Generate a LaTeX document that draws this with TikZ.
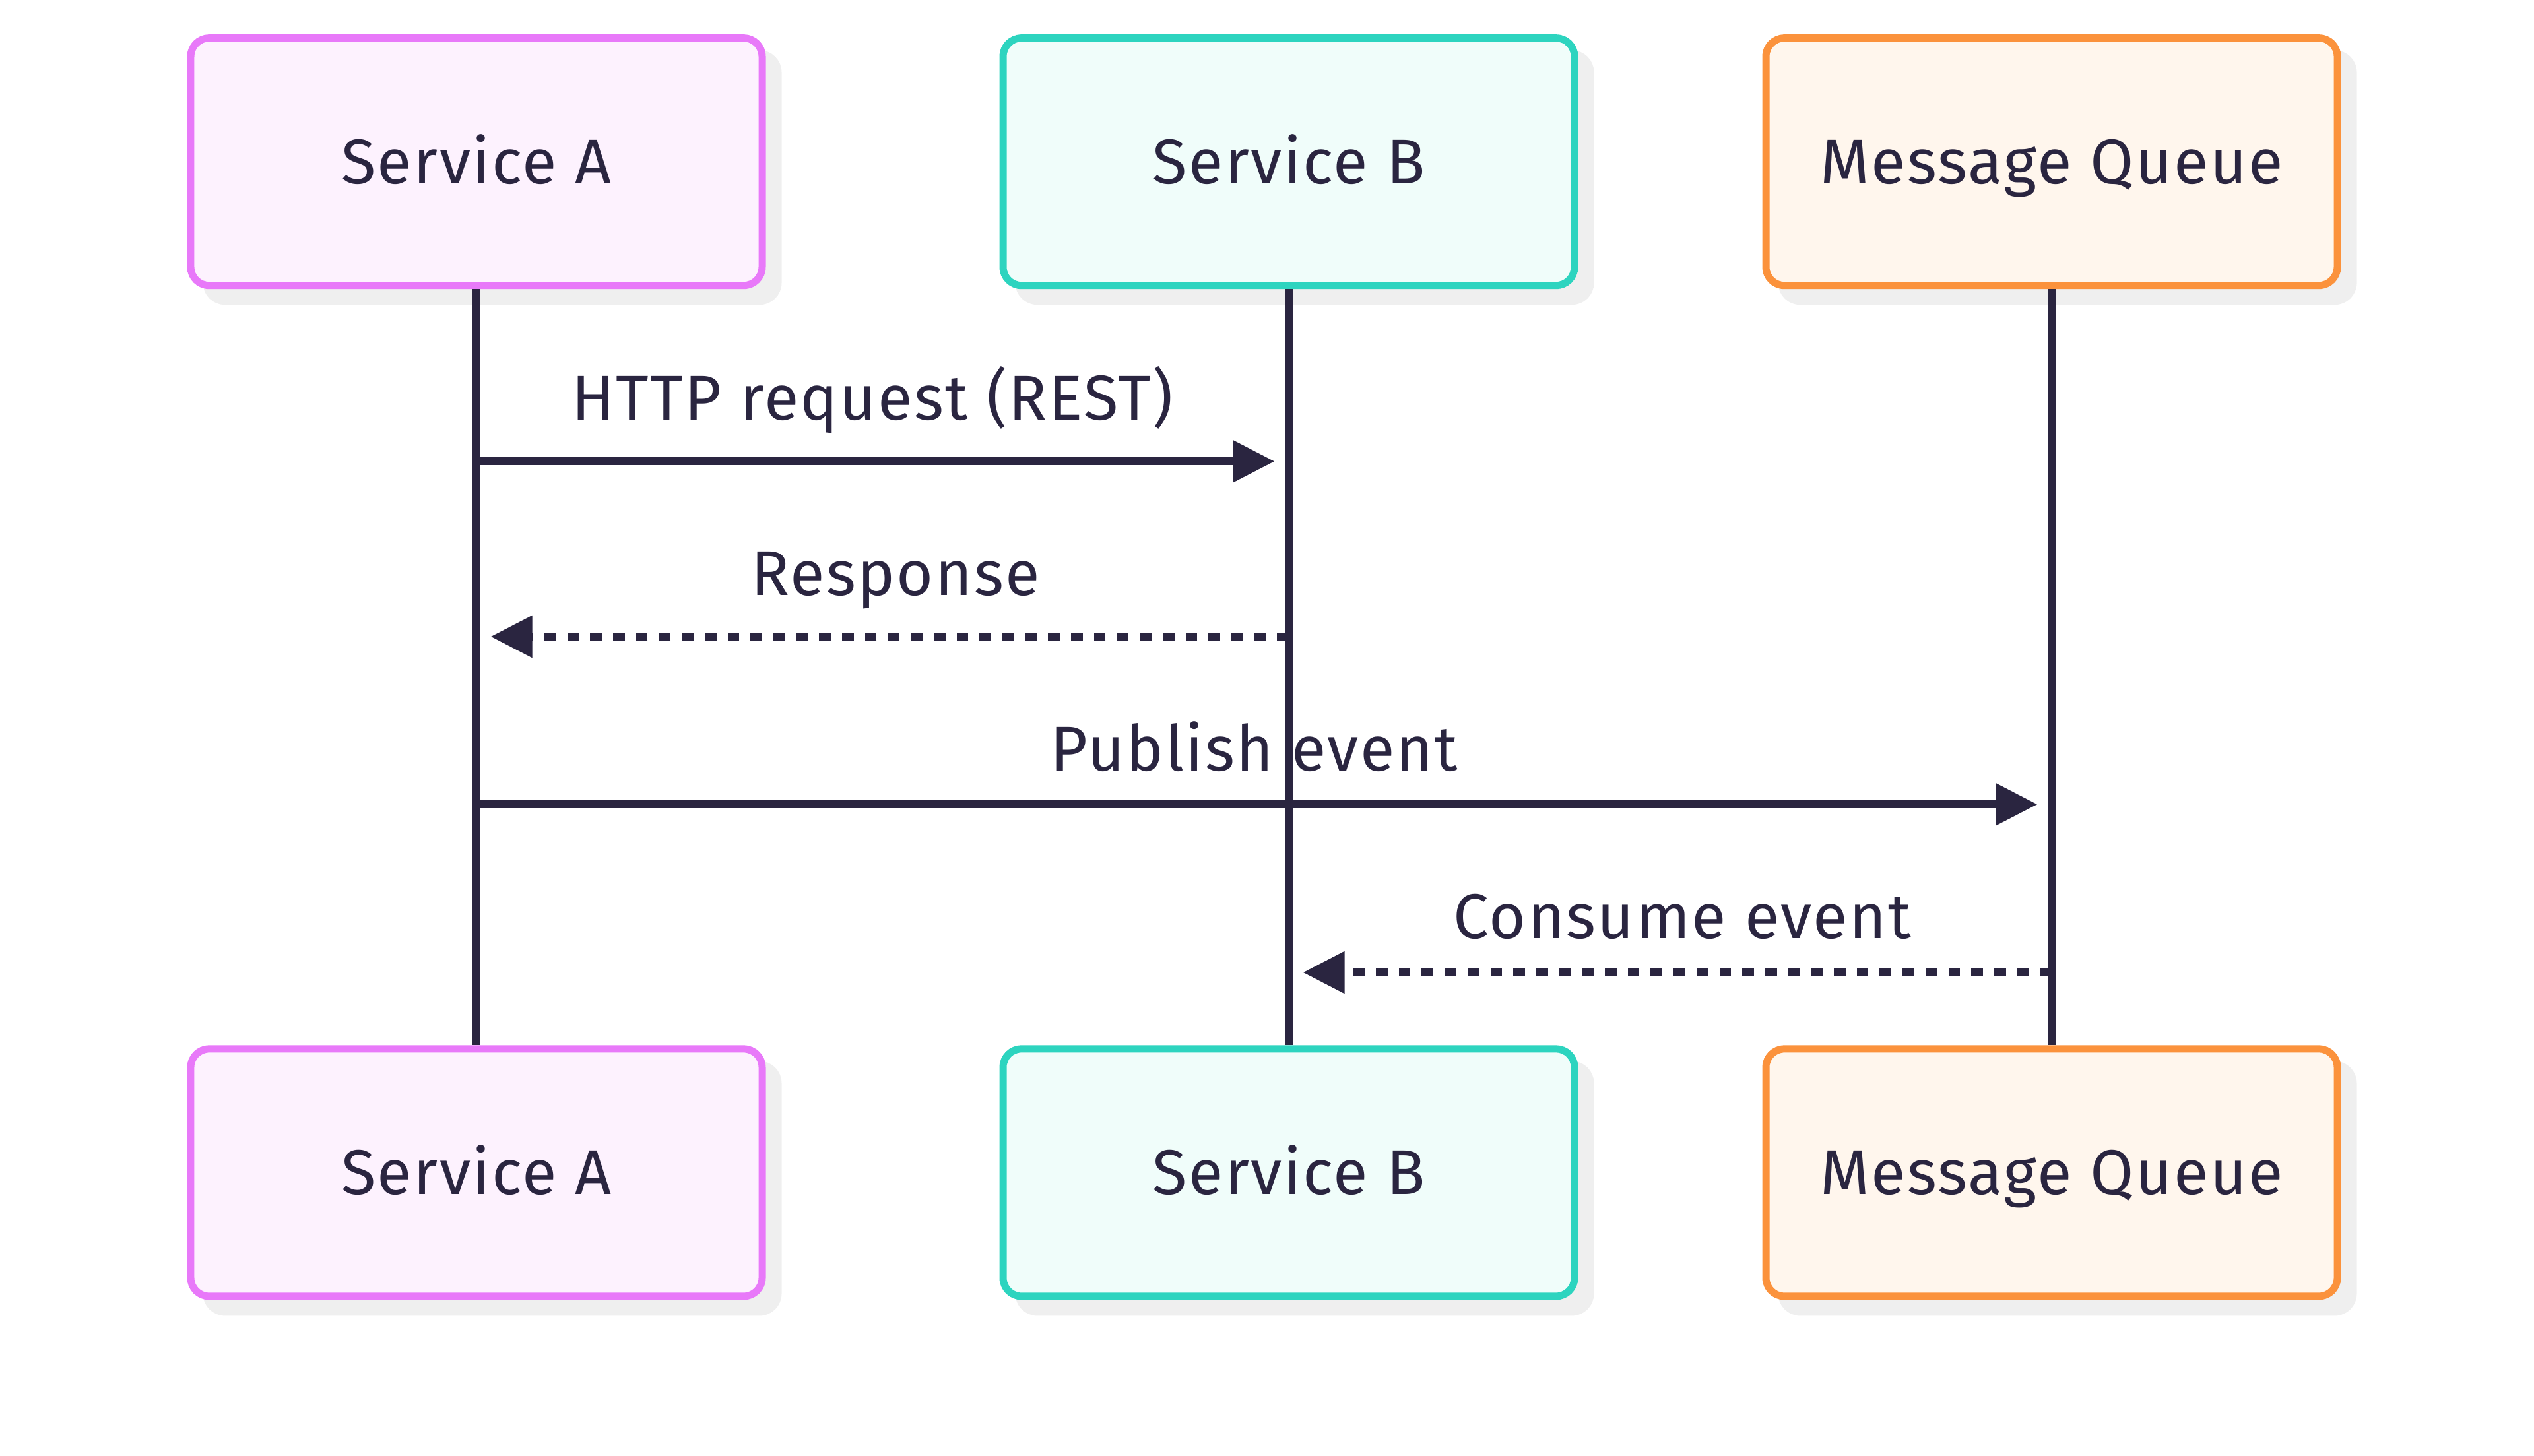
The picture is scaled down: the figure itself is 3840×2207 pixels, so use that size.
\documentclass[tikz,border=0pt]{standalone}
\usepackage{fontspec}
\setmainfont[LetterSpace=2.5]{Fira Sans}
\usetikzlibrary{arrows.meta,shadows}
\definecolor{ink}{HTML}{2A2540}
\definecolor{shade}{HTML}{EFEFEF}
\definecolor{aborder}{HTML}{E879F9}
\definecolor{afill}{HTML}{FDF2FE}
\definecolor{bborder}{HTML}{2DD4BF}
\definecolor{bfill}{HTML}{F0FDFA}
\definecolor{qborder}{HTML}{FB923C}
\definecolor{qfill}{HTML}{FFF6ED}
\begin{document}
\begin{tikzpicture}[x=0.2pt,y=-0.2pt,
  actor/.style={draw, line width=2.2pt, rounded corners=5.6pt,
    minimum width=173.2pt, minimum height=75pt, inner sep=0pt,
    text=ink, font=\fontsize{19.2}{23}\selectfont,
    text height=13.2pt, text depth=0pt,
    drop shadow={shadow xshift=4.8pt, shadow yshift=-4.8pt,
      fill=shade, draw=shade, line width=2.2pt, opacity=1}},
  acta/.style={actor, draw=aborder, fill=afill},
  actb/.style={actor, draw=bborder, fill=bfill},
  actq/.style={actor, draw=qborder, fill=qfill},
  life/.style={draw=ink, line width=2.34pt},
  msg/.style={draw=ink, line width=2.34pt, shorten >=4.3pt,
    -{Triangle[length=12.6pt,width=12.2pt]}},
  reply/.style={msg, dash pattern=on 3.54pt off 3.4pt},
  lbl/.style={text=ink, font=\fontsize{19.2}{23}\selectfont, anchor=base, inner sep=0pt}
]
\useasboundingbox (0,0) rectangle (3840,2207);

% participants
\node[acta] (a1) at (722,245.2) {Service A};
\node[actb] (b1) at (1953,245.2) {Service B};
\node[actq] (q1) at (3109,245.2) {Message Queue};
\node[acta] (a2) at (722,1777.4) {Service A};
\node[actb] (b2) at (1953,1777.4) {Service B};
\node[actq] (q2) at (3109,1777.4) {Message Queue};

% lifelines
\draw[life] (a1.south) -- (a2.north);
\draw[life] (b1.south) -- (b2.north);
\draw[life] (q1.south) -- (q2.north);

% message anchor points on the lifelines
\coordinate (h1) at (722,699.3);
\coordinate (h2) at (1953,699.3);
\coordinate (r1) at (1953,965);
\coordinate (r2) at (722,965);
\coordinate (p1) at (722,1219.3);
\coordinate (p2) at (3109,1219.3);
\coordinate (c1) at (3109,1474);
\coordinate (c2) at (1953,1474);

% messages
\draw[msg] (h1) -- (h2);
\node[lbl] (l1) at (1322,636.7) {HTTP request (REST)};
\draw[reply] (r1) -- (r2);
\node[lbl] (l2) at (1357,903) {Response};
\draw[msg] (p1) -- (p2);
\node[lbl] (l3) at (1901,1169) {Publish event};
\draw[reply] (c1) -- (c2);
\node[lbl] (l4) at (2549,1422.7) {Consume event};
\end{tikzpicture}
\end{document}
